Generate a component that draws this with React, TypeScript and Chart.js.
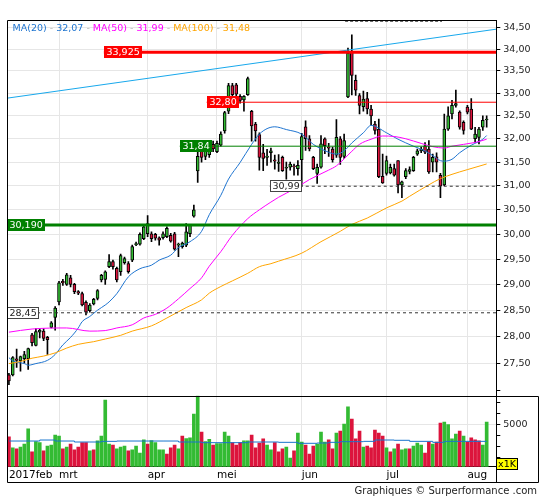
import React, { useEffect, useRef } from 'react';
import { Chart, registerables } from 'chart.js';

Chart.register(...registerables);

// ---------- DATA ----------
const SLOT_COUNT = 127;
const monthNames = ['2017feb', 'mrt', 'apr', 'mei', 'jun', 'jul', 'aug'];
const monthStarts = [0, 13, 36, 54, 76, 98, 119];

const opens = [
  27.28, 27.28, 27.58, 27.54, 27.58, 27.58, 28.03, 27.83, 28.08, 28.10,
  27.98, 28.17, 28.36, 28.66, 29.06, 29.00, 29.13, 29.00, 28.86, 28.82,
  28.65, 28.49, 28.62, 28.73, 29.09, 29.10, 29.35, 29.45, 29.32, 29.25,
  29.43, 29.41, 29.48, 29.79, 29.80, 29.91, 30.01, 30.01, 30.00, 29.93,
  29.93, 29.95, 29.98, 30.01, 29.78, 29.75, 29.78, 30.01, 30.37, 31.31,
  31.74, 31.62, 31.66, 31.88, 31.72, 31.86, 32.17, 32.60, 33.17, 33.19,
  32.93, 32.85, 32.97, 32.60, 32.32, 32.09, 31.70, 31.60, 31.70, 31.55,
  31.47, 31.60, 31.37, 31.39, 31.42, 31.36, 31.55, 32.26, 32.00, 31.60,
  31.26, 31.39, 32.00, 31.82, 31.78, 31.65, 32.00, 31.62, 32.92, 33.93,
  33.29, 32.95, 32.70, 32.88, 32.65, 32.32, 32.21, 31.20, 31.26, 31.27,
  31.36, 31.53, 31.02, 31.19, 31.30, 31.32, 31.67, 31.74, 31.85, 31.78,
  31.50, 31.61, 31.22, 31.02, 32.21, 32.54, 32.73, 32.58, 32.36, 32.69,
  32.65, 32.00, 32.03, 32.25, 32.41,
];
const highs = [
  27.31, 27.62, 27.76, 27.63, 27.72, 27.78, 28.06, 28.15, 28.15, 28.15,
  28.00, 28.28, 28.57, 29.06, 29.10, 29.22, 29.18, 29.02, 28.88, 28.85,
  28.68, 28.63, 28.73, 28.90, 29.20, 29.27, 29.59, 29.48, 29.34, 29.60,
  29.54, 29.45, 29.78, 29.84, 30.03, 30.18, 30.38, 30.05, 30.02, 29.95,
  30.05, 30.15, 30.02, 30.04, 29.82, 29.84, 30.22, 30.20, 30.60, 31.71,
  31.80, 31.82, 31.88, 31.95, 31.95, 32.15, 32.60, 33.22, 33.22, 33.22,
  32.97, 32.95, 33.36, 32.62, 32.36, 32.13, 31.88, 31.77, 31.80, 31.65,
  31.66, 31.63, 31.50, 31.50, 31.46, 31.53, 32.12, 32.39, 32.07, 31.62,
  31.46, 32.07, 32.02, 31.90, 31.82, 32.42, 32.05, 32.10, 34.02, 34.33,
  33.41, 32.99, 33.05, 33.02, 32.73, 32.38, 32.43, 31.67, 31.63, 31.46,
  31.46, 31.53, 31.10, 31.36, 31.40, 31.62, 31.78, 31.82, 31.92, 31.96,
  31.67, 31.70, 31.26, 32.54, 32.70, 32.84, 33.07, 32.61, 32.39, 32.73,
  32.88, 32.25, 32.25, 32.50, 32.50,
];
const lows = [
  27.10, 27.26, 27.42, 27.35, 27.50, 27.38, 27.82, 27.82, 27.97, 27.92,
  27.66, 28.16, 28.12, 28.60, 28.98, 28.98, 28.95, 28.82, 28.80, 28.58,
  28.41, 28.46, 28.60, 28.70, 29.05, 29.00, 29.33, 29.30, 29.05, 29.18,
  29.40, 29.22, 29.45, 29.77, 29.78, 29.89, 29.95, 29.85, 29.88, 29.78,
  29.90, 29.93, 29.84, 29.68, 29.55, 29.72, 29.75, 29.95, 30.35, 31.07,
  31.50, 31.55, 31.60, 31.72, 31.70, 31.84, 32.12, 32.55, 32.90, 32.79,
  32.78, 32.60, 32.95, 31.95, 31.95, 31.33, 31.32, 31.43, 31.50, 31.35,
  31.30, 31.30, 31.14, 31.33, 31.22, 31.22, 30.99, 31.75, 31.74, 31.34,
  31.05, 31.37, 31.68, 31.62, 31.50, 31.60, 31.45, 31.58, 32.90, 32.96,
  32.95, 32.54, 32.60, 32.54, 32.30, 32.10, 31.17, 31.05, 31.22, 31.25,
  31.20, 30.85, 30.75, 31.15, 31.25, 31.30, 31.64, 31.70, 31.68, 31.26,
  31.29, 31.29, 30.75, 31.00, 32.18, 32.43, 32.69, 32.21, 32.10, 32.54,
  32.20, 31.92, 31.89, 32.18, 32.25,
];
const closes = [
  27.17, 27.60, 27.55, 27.62, 27.66, 27.77, 27.88, 28.09, 28.12, 27.96,
  27.94, 28.26, 28.54, 29.03, 29.03, 29.19, 29.00, 28.86, 28.83, 28.60,
  28.46, 28.60, 28.71, 28.88, 29.18, 29.25, 29.45, 29.35, 29.09, 29.57,
  29.51, 29.25, 29.75, 29.81, 30.00, 30.15, 30.22, 29.91, 29.92, 29.88,
  30.01, 30.12, 29.86, 29.70, 29.80, 29.82, 30.05, 30.18, 30.50, 31.62,
  31.60, 31.77, 31.84, 31.78, 31.90, 32.10, 32.57, 33.17, 32.97, 32.98,
  32.84, 32.93, 33.33, 32.28, 32.17, 31.60, 31.58, 31.63, 31.74, 31.52,
  31.50, 31.32, 31.39, 31.46, 31.40, 31.43, 32.05, 32.00, 31.78, 31.36,
  31.39, 31.89, 31.85, 31.80, 31.55, 32.03, 31.60, 31.96, 33.91, 33.40,
  33.07, 32.73, 32.87, 32.65, 32.50, 32.18, 31.19, 31.06, 31.53, 31.39,
  31.22, 31.02, 31.08, 31.32, 31.34, 31.60, 31.74, 31.78, 31.71, 31.29,
  31.60, 31.50, 30.99, 32.21, 32.50, 32.73, 32.77, 32.25, 32.18, 32.58,
  32.21, 32.10, 32.21, 32.40, 32.43,
];

const volumes = [
  3850, 2850, 2760, 2940, 3210, 4580, 2490, 3420, 3330, 2580,
  3030, 3120, 4030, 3940, 2760, 2940, 3210, 2670, 2940, 3330,
  3330, 2580, 2670, 3490, 3940, 7210, 3210, 3120, 2760, 2940,
  3030, 2580, 2670, 3030, 2390, 3580, 3210, 3520, 3330, 2670,
  2670, 2300, 2850, 3120, 2760, 3940, 3700, 3760, 5940, 7600,
  4300, 3420, 3640, 3120, 3240, 3240, 4300, 3940, 3330, 3120,
  3330, 3490, 3490, 4030, 2850, 3300, 3670, 3120, 2670, 3330,
  2490, 2760, 2940, 1940, 2580, 4210, 3390, 3120, 2300, 3030,
  3210, 4300, 3390, 3580, 2760, 4210, 4390, 5030, 6580, 5480,
  3670, 4390, 2940, 3030, 2850, 4480, 4210, 3940, 2850, 2490,
  2760, 3210, 2670, 2760, 2760, 3030, 3300, 3120, 2390, 3390,
  3210, 3390, 5120, 5210, 4970, 3670, 4120, 4390, 3940, 3390,
  3760, 3580, 3490, 3120, 5210,
];
const volumeUp = [
  0, 1, 0, 1, 1, 1, 0, 1, 1, 0,
  1, 1, 1, 1, 0, 1, 0, 0, 0, 0,
  0, 1, 0, 1, 1, 1, 1, 0, 1, 1,
  1, 0, 1, 1, 1, 1, 0, 1, 1, 1,
  1, 0, 0, 0, 1, 0, 1, 1, 1, 1,
  0, 1, 1, 0, 1, 1, 1, 1, 0, 0,
  0, 1, 1, 0, 0, 0, 0, 1, 1, 0,
  0, 0, 1, 1, 0, 1, 1, 0, 0, 0,
  1, 1, 1, 0, 0, 1, 0, 1, 1, 0,
  0, 0, 1, 0, 0, 0, 0, 0, 1, 0,
  1, 0, 1, 1, 0, 1, 1, 1, 0, 0,
  1, 0, 0, 1, 1, 1, 1, 0, 1, 0,
  0, 0, 0, 1, 1,
];

const volAvgIdx = [0, 8, 12, 17, 21, 24, 28, 40, 44, 50, 58, 62, 70, 75, 80, 83, 86, 92, 95, 100, 104, 110, 113, 124];
const volAvgVal = [3480, 3570, 3480, 3390, 3390, 3450, 3480, 3480, 3390, 3330, 3330, 3390, 3360, 3270, 3300, 3360, 3420, 3450, 3570, 3545, 3450, 3360, 3450, 3450];

const ma20Idx = [0, 1, 4, 5, 7, 10, 12, 14, 16, 18, 19, 21, 23, 25, 26, 28, 31, 34, 37, 39, 42, 44, 47, 50, 52, 55, 57, 60, 63, 65, 67, 69, 72, 76, 79, 83, 85, 87, 89, 92, 94, 98, 101, 105, 108, 110, 112, 113, 115, 117, 120, 123, 124];
const ma20Val = [27.6, 27.54, 27.49, 27.46, 27.49, 27.55, 27.66, 27.84, 27.98, 28.16, 28.28, 28.38, 28.5, 28.6, 28.66, 28.82, 29.15, 29.31, 29.38, 29.48, 29.58, 29.73, 29.85, 30.06, 30.4, 30.8, 31.14, 31.49, 31.88, 32.1, 32.22, 32.26, 32.2, 32.1, 31.88, 31.71, 31.67, 31.74, 31.91, 32.13, 32.29, 32.13, 31.99, 31.84, 31.74, 31.64, 31.53, 31.52, 31.56, 31.7, 31.86, 31.99, 32.07];

const ma50Idx = [0, 6, 15, 21, 25, 28, 32, 35, 38, 41, 44, 47, 50, 52, 55, 58, 62, 65, 68, 70, 74, 78, 83, 85, 89, 91, 94, 97, 100, 103, 107, 110, 113, 115, 121, 124];
const ma50Val = [28.08, 28.14, 28.16, 28.1, 28.11, 28.16, 28.22, 28.35, 28.42, 28.54, 28.72, 28.92, 29.13, 29.36, 29.65, 29.98, 30.32, 30.5, 30.66, 30.76, 30.93, 31.13, 31.33, 31.42, 31.73, 31.88, 31.99, 32.06, 32.05, 32.0, 31.9, 31.83, 31.8, 31.84, 31.92, 31.99];

const ma100Idx = [0, 3, 6, 9, 12, 15, 18, 22, 25, 29, 32, 37, 41, 44, 46, 50, 52, 55, 58, 62, 65, 68, 70, 76, 81, 86, 89, 93, 98, 102, 104, 109, 112, 115, 119, 124];
const ma100Val = [27.49, 27.53, 27.59, 27.63, 27.69, 27.78, 27.85, 27.9, 27.95, 28.02, 28.1, 28.2, 28.35, 28.47, 28.55, 28.7, 28.83, 28.96, 29.07, 29.22, 29.35, 29.41, 29.46, 29.62, 29.85, 30.06, 30.2, 30.33, 30.54, 30.68, 30.78, 31.02, 31.15, 31.24, 31.34, 31.46];

const trendStart = 32.89;
const trendEnd = 34.46;

const priceTicks = [27, 27.5, 28, 28.5, 29, 29.5, 30, 30.5, 31, 31.5, 32, 32.5, 33, 33.5, 34, 34.5];
const volumeTicks = [2000, 3000, 4000, 5000, 6000, 7000];

const legendNames = ['MA(20)', 'MA(50)', 'MA(100)'];
const legendValues = ['32,07', '31,99', '31,48'];

const levelValues = [33.925, 32.80, 31.84, 30.19, 30.99, 28.45];
const levelTexts = ['33,925', '32,80', '31,84', '30,190', '30,99', '28,45'];
const topLevelValue = 34.645;

// ---------- STYLES ----------
const GREEN = '#33bb33';
const RED = '#dc143c';
const MA20_COLOR = '#1e74d0';
const MA50_COLOR = '#ff00ff';
const MA100_COLOR = '#ffa500';
const TREND_COLOR = '#18a8ec';
const GRID = '#e6e6e6';
const FONT = '"DejaVu Sans", Verdana, sans-serif';

const levelStyles = [
  { from: 0.198, color: '#ff0000', width: 3, dash: [] as number[], bg: '#ff0000', fg: '#ffffff', border: '' },
  { from: 0.408, color: '#ff0000', width: 1, dash: [] as number[], bg: '#ff0000', fg: '#ffffff', border: '' },
  { from: 0.353, color: '#008000', width: 1, dash: [] as number[], bg: '#008000', fg: '#ffffff', border: '' },
  { from: 0.0, color: '#008000', width: 3, dash: [] as number[], bg: '#008000', fg: '#ffffff', border: '' },
  { from: 0.537, color: '#333333', width: 1, dash: [3, 3], bg: '#ffffff', fg: '#222222', border: '#444444' },
  { from: 0.0, color: '#333333', width: 1, dash: [3, 3], bg: '#ffffff', fg: '#222222', border: '#444444' },
];

function sparse(idx: number[], val: number[], n: number) {
  const out: (number | null)[] = new Array(n).fill(null);
  idx.forEach((k, j) => { out[k] = val[j]; });
  return out;
}

const overlayPlugin = {
  id: 'overlay',
  afterDatasetsDraw(chart: any) {
    const { ctx, chartArea } = chart;
    const y = chart.scales.y;
    const xl = chart.scales.xl;
    ctx.save();
    // level boxes
    ctx.font = `9.5px ${FONT}`;
    ctx.textBaseline = 'middle';
    ctx.textAlign = 'left';
    levelValues.forEach((v, i) => {
      const st = levelStyles[i];
      const py = y.getPixelForValue(v);
      const px = Math.round(xl.getPixelForValue(st.from));
      const tw = ctx.measureText(levelTexts[i]).width;
      const w = Math.round(tw + 5);
      const h = 12;
      const top = Math.round(py - h / 2);
      ctx.fillStyle = st.bg;
      ctx.fillRect(px, top, w, h);
      if (st.border) {
        ctx.strokeStyle = st.border;
        ctx.lineWidth = 1;
        ctx.strokeRect(px + 0.5, top + 0.5, w - 1, h - 1);
      }
      ctx.fillStyle = st.fg;
      ctx.fillText(levelTexts[i], px + 2.5, top + h / 2 + 0.5);
    });
    // legend
    ctx.font = `9.5px ${FONT}`;
    ctx.textBaseline = 'alphabetic';
    const colors = [MA20_COLOR, MA50_COLOR, MA100_COLOR];
    let lx = chartArea.left + 5.5;
    const ly = chartArea.top + 10.5;
    const sep = ' - ';
    legendNames.forEach((name, i) => {
      if (i > 0) {
        ctx.fillStyle = '#bbbbbb';
        ctx.fillText(sep, lx, ly);
        lx += ctx.measureText(sep).width;
      }
      ctx.fillStyle = colors[i];
      ctx.fillText(name, lx, ly);
      lx += ctx.measureText(name).width;
      ctx.fillStyle = '#bbbbbb';
      ctx.fillText(sep, lx, ly);
      lx += ctx.measureText(sep).width;
      ctx.fillStyle = colors[i];
      ctx.fillText(legendValues[i], lx, ly);
      lx += ctx.measureText(legendValues[i]).width;
    });
    ctx.restore();
  },
  afterDraw(chart: any) {
    const { ctx, chartArea } = chart;
    const y = chart.scales.y;
    const yv = chart.scales.yv;
    const L = Math.round(chartArea.left) + 0.5;
    const R = Math.round(chartArea.right) + 0.5;
    const T = Math.round(chartArea.top) + 0.5;
    const S = Math.round(y.bottom) + 0.5;
    const B = 482.5;
    const OR = 538.5;
    ctx.save();
    ctx.strokeStyle = '#000';
    ctx.lineWidth = 1;
    ctx.beginPath();
    ctx.moveTo(L, T); ctx.lineTo(R, T);
    ctx.moveTo(L, T); ctx.lineTo(L, B);
    ctx.moveTo(L, B); ctx.lineTo(OR, B);
    ctx.moveTo(OR, S); ctx.lineTo(OR, B);
    ctx.moveTo(L, S); ctx.lineTo(OR, S);
    ctx.moveTo(R, T); ctx.lineTo(R, B);
    ctx.stroke();
    // x1K box
    const bx = R;
    const by = Math.round(yv.bottom - 8.5) + 0.5;
    ctx.fillStyle = '#ffff00';
    ctx.fillRect(bx, by, 21, 11);
    ctx.strokeRect(bx, by, 21, 11);
    ctx.fillStyle = '#000';
    ctx.font = `9.5px ${FONT}`;
    ctx.textAlign = 'center';
    ctx.textBaseline = 'middle';
    ctx.fillText('x1K', bx + 10.5, by + 6);
    // credit
    ctx.font = `10px ${FONT}`;
    ctx.textAlign = 'right';
    ctx.textBaseline = 'alphabetic';
    ctx.fillStyle = '#222';
    ctx.fillText('Graphiques \u00a9 Surperformance .com', 537, 494);
    ctx.restore();
  },
};

export default function App() {
  const ref = useRef<HTMLCanvasElement | null>(null);

  useEffect(() => {
    if (!ref.current) return;
    const n = opens.length;
    const slotLabels = Array.from({ length: SLOT_COUNT }, (_, i) => String(i));
    const bodyColors = opens.map((o, i) => (closes[i] >= o ? GREEN : RED));
    const volColors = volumeUp.map((u) => (u ? GREEN : RED));

    const lineBase = { type: 'line' as const, pointRadius: 0, borderWidth: 1, fill: false, spanGaps: true };

    const levelDatasets = levelValues.map((v, i) => ({
      ...lineBase,
      xAxisID: 'xl',
      yAxisID: 'y',
      data: [{ x: levelStyles[i].from, y: v }, { x: 1, y: v }],
      borderColor: levelStyles[i].color,
      borderWidth: levelStyles[i].width,
      borderDash: levelStyles[i].dash,
      order: 0,
    }));

    const chart = new Chart(ref.current, {
      type: 'bar',
      data: {
        labels: slotLabels,
        datasets: [
          ...levelDatasets,
          {
            ...lineBase,
            xAxisID: 'xl',
            yAxisID: 'y',
            data: [{ x: 0.691, y: topLevelValue }, { x: 0.889, y: topLevelValue }],
            borderColor: '#333',
            borderDash: [3, 2],
            order: 0,
          },
          {
            ...lineBase,
            xAxisID: 'xl',
            yAxisID: 'y',
            data: [{ x: 0, y: trendStart }, { x: 1, y: trendEnd }],
            borderColor: TREND_COLOR,
            order: 0,
          },
          {
            ...lineBase,
            xAxisID: 'x',
            yAxisID: 'y',
            data: sparse(ma100Idx, ma100Val, n),
            borderColor: MA100_COLOR,
            cubicInterpolationMode: 'monotone',
            order: 0,
          },
          {
            ...lineBase,
            xAxisID: 'x',
            yAxisID: 'y',
            data: sparse(ma50Idx, ma50Val, n),
            borderColor: MA50_COLOR,
            cubicInterpolationMode: 'monotone',
            order: 0,
          },
          {
            ...lineBase,
            xAxisID: 'x',
            yAxisID: 'y',
            data: sparse(ma20Idx, ma20Val, n),
            borderColor: MA20_COLOR,
            cubicInterpolationMode: 'monotone',
            order: 0,
          },
          {
            type: 'bar',
            xAxisID: 'x',
            yAxisID: 'y',
            data: opens.map((o, i) => [o, closes[i]]),
            backgroundColor: bodyColors,
            borderColor: '#000',
            borderWidth: 1,
            borderSkipped: false,
            barThickness: 3,
            grouped: false,
            order: 1,
          } as any,
          {
            type: 'bar',
            xAxisID: 'x',
            yAxisID: 'y',
            data: lows.map((l, i) => [l, highs[i]]),
            backgroundColor: '#000',
            barThickness: 1,
            grouped: false,
            order: 2,
          } as any,
          {
            ...lineBase,
            xAxisID: 'x',
            yAxisID: 'yv',
            data: sparse(volAvgIdx, volAvgVal, n),
            borderColor: '#1874cd',
            stepped: true,
            order: 0,
          } as any,
          {
            type: 'bar',
            xAxisID: 'x',
            yAxisID: 'yv',
            data: volumes,
            backgroundColor: volColors,
            barThickness: 3,
            grouped: false,
            order: 3,
          } as any,
        ] as any,
      },
      options: {
        responsive: false,
        animation: false,
        events: [],
        layout: { padding: { top: 20, left: 7, right: 0, bottom: 17.7 } },
        plugins: { legend: { display: false }, tooltip: { enabled: false } },
        scales: {
          x: {
            type: 'category',
            offset: true,
            grid: {
              offset: false,
              drawTicks: false,
              color: (c: any) => (c.index > 0 && monthStarts.includes(c.index) ? GRID : 'rgba(0,0,0,0)'),
            },
            border: { color: '#000' },
            ticks: {
              autoSkip: false,
              maxRotation: 0,
              minRotation: 0,
              align: 'start',
              padding: 2,
              color: '#000',
              font: { family: FONT, size: 10.5 },
              callback: (_v: any, i: number) => {
                const k = monthStarts.indexOf(i);
                return k >= 0 ? monthNames[k] : '';
              },
            },
            afterFit: (s: any) => { s.height = 15.6; },
          },
          xl: { type: 'linear', min: 0, max: 1, display: false, offset: false, grid: { offset: false } },
          y: {
            type: 'logarithmic',
            position: 'right',
            stack: 'main',
            stackWeight: 375.7,
            min: 26.943,
            max: 34.674,
            afterBuildTicks: (s: any) => { s.ticks = priceTicks.map((v) => ({ value: v })); },
            afterFit: (s: any) => { s.width = 48.7; },
            grid: {
              color: (c: any) => (c.tick && c.tick.value === 27 ? 'rgba(0,0,0,0)' : GRID),
              tickColor: '#000',
              tickLength: 4,
            },
            border: { color: '#000' },
            ticks: {
              autoSkip: false,
              padding: 3,
              color: '#222',
              font: { family: FONT, size: 9.5 },
              callback: (v: any) => (Number(v) === 27 ? '' : Number(v).toFixed(2).replace('.', ',')),
            },
          },
          yv: {
            type: 'linear',
            position: 'right',
            stack: 'main',
            stackWeight: 71,
            min: 1145,
            max: 7600,
            afterBuildTicks: (s: any) => { s.ticks = volumeTicks.map((v) => ({ value: v })); },
            afterFit: (s: any) => { s.width = 48.7; },
            grid: {
              color: (c: any) => (c.tick && c.tick.value === 5000 ? GRID : 'rgba(0,0,0,0)'),
              tickColor: '#000',
              tickLength: 4,
            },
            border: { color: '#000' },
            ticks: {
              autoSkip: false,
              padding: 3,
              color: '#222',
              font: { family: FONT, size: 9.5 },
              callback: (v: any) => (Number(v) === 5000 ? '5000' : ''),
            },
          },
        } as any,
      },
      plugins: [overlayPlugin],
    });
    return () => chart.destroy();
  }, []);

  return (
    <div style={{ position: 'fixed', left: 0, top: 0, width: 545, height: 500, background: '#fff' }}>
      <canvas ref={ref} width={545} height={500} style={{ width: 545, height: 500, display: 'block' }} />
    </div>
  );
}
